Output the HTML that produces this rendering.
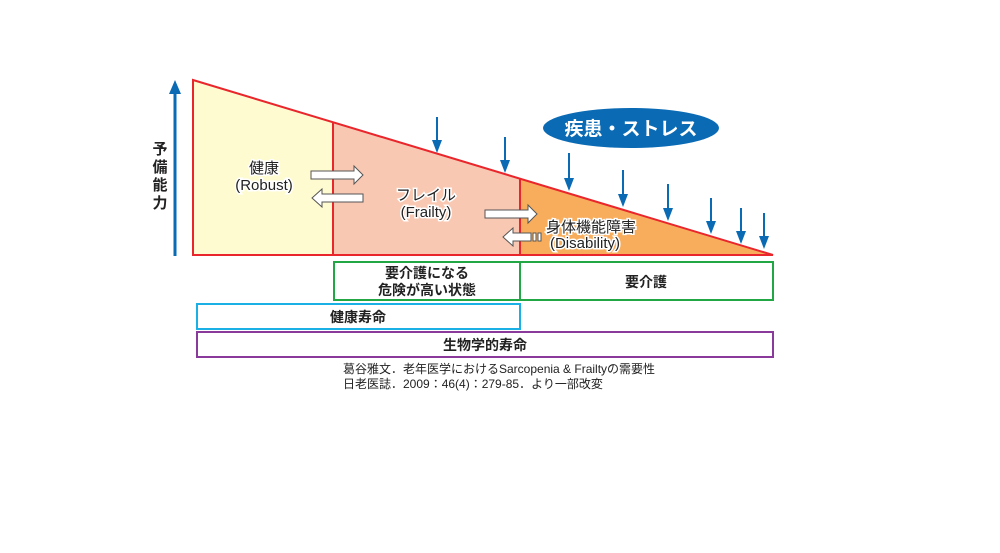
<!DOCTYPE html>
<html><head><meta charset="utf-8"><style>
body{margin:0;background:#fff;}
svg text{font-family:"Liberation Sans","Noto Sans CJK JP",sans-serif;}
</style></head><body>
<svg width="1000" height="548" viewBox="0 0 1000 548" xmlns="http://www.w3.org/2000/svg">
<!-- regions -->
<polygon points="193,80 333,122 333,255 193,255" fill="#fefbd0"/>
<polygon points="333,122 520,178.5 520,255 333,255" fill="#f9c8b2"/>
<polygon points="520,178.5 773,255 520,255" fill="#f8ad5c"/>
<polygon points="193,80 773,255 193,255" fill="none" stroke="#e8262c" stroke-width="2"/>
<line x1="333" y1="122" x2="333" y2="255" stroke="#e8262c" stroke-width="2"/>
<line x1="520" y1="178.5" x2="520" y2="255" stroke="#e8262c" stroke-width="2"/>
<!-- y axis -->
<line x1="175" y1="256" x2="175" y2="92" stroke="#0a6ab4" stroke-width="3"/>
<polygon points="169,94 175,80 181,94" fill="#0a6ab4"/>
<text x="160" y="154" font-size="15" font-weight="bold" fill="#222" text-anchor="middle">予</text>
<text x="160" y="172" font-size="15" font-weight="bold" fill="#222" text-anchor="middle">備</text>
<text x="160" y="190" font-size="15" font-weight="bold" fill="#222" text-anchor="middle">能</text>
<text x="160" y="208" font-size="15" font-weight="bold" fill="#222" text-anchor="middle">力</text>
<!-- stress arrows -->
<g stroke="#0a6ab4" stroke-width="2">
<line x1="437" y1="117" x2="437" y2="142"/>
<line x1="505" y1="137" x2="505" y2="162"/>
<line x1="569" y1="153" x2="569" y2="180"/>
<line x1="623" y1="170" x2="623" y2="196"/>
<line x1="668" y1="184" x2="668" y2="210"/>
<line x1="711" y1="198" x2="711" y2="223"/>
<line x1="741" y1="208" x2="741" y2="233"/>
<line x1="764" y1="213" x2="764" y2="238"/>
</g>
<g fill="#0a6ab4">
<polygon points="432,140 442,140 437,153"/>
<polygon points="500,160 510,160 505,173"/>
<polygon points="564,178 574,178 569,191"/>
<polygon points="618,194 628,194 623,207"/>
<polygon points="663,208 673,208 668,221"/>
<polygon points="706,221 716,221 711,234"/>
<polygon points="736,231 746,231 741,244"/>
<polygon points="759,236 769,236 764,249"/>
</g>
<ellipse cx="631" cy="128" rx="88" ry="20" fill="#0a6ab4"/>
<text x="631" y="135" font-size="19" font-weight="bold" fill="#fff" text-anchor="middle">疾患・ストレス</text>
<!-- white arrows -->
<g fill="#fff" stroke="#555" stroke-width="1">
<polygon points="311,171 354,171 354,166 363,175 354,184 354,179 311,179"/>
<polygon points="363,194 322,194 322,189 312,198 322,207 322,202 363,202"/>
<polygon points="485,210 528,210 528,205 537,214 528,223 528,218 485,218"/>
<polygon points="531,233 513,233 513,228 503,237 513,246 513,241 531,241"/>
<rect x="533" y="233" width="3" height="8"/><rect x="538" y="233" width="3" height="8"/>
</g>
<!-- region labels -->
<g font-size="15" fill="#222" text-anchor="middle" stroke="#fff" stroke-width="3" paint-order="stroke">
<text x="264" y="173">健康</text>
<text x="264" y="190">(Robust)</text>
<text x="426" y="200">フレイル</text>
<text x="426" y="217">(Frailty)</text>
<text x="591" y="232">身体機能障害</text>
<text x="585" y="248">(Disability)</text>
</g>
<!-- boxes -->
<rect x="334" y="262" width="186" height="38" fill="none" stroke="#22a745" stroke-width="2"/>
<rect x="520" y="262" width="253" height="38" fill="none" stroke="#22a745" stroke-width="2"/>
<rect x="197" y="304" width="323" height="25" fill="none" stroke="#1ab0e6" stroke-width="2"/>
<rect x="197" y="332" width="576" height="25" fill="none" stroke="#8a3a9a" stroke-width="2"/>
<g font-size="14" font-weight="bold" fill="#222" text-anchor="middle">
<text x="427" y="278">要介護になる</text>
<text x="427" y="295">危険が高い状態</text>
<text x="646" y="287">要介護</text>
<text x="358" y="322">健康寿命</text>
<text x="485" y="350">生物学的寿命</text>
</g>
<g font-size="12" fill="#222">
<text x="343" y="373">葛谷雅文．老年医学におけるSarcopenia &amp; Frailtyの需要性</text>
<text x="343" y="388">日老医誌．2009：46(4)：279-85．より一部改変</text>
</g>
</svg>
</body></html>
